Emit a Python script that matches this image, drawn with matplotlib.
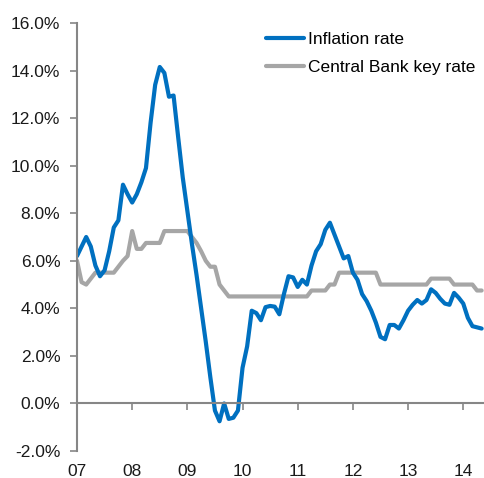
import numpy as np
import matplotlib.pyplot as plt

plt.rcParams['font.family'] = ['Liberation Sans', 'DejaVu Sans']

# Monthly observations, Jan 2007 - May 2014
start_year = 2007
inflation = [
    6.2, 6.6, 7.0, 6.6, 5.8, 5.35, 5.6, 6.4, 7.4, 7.7, 9.2, 8.8,
    8.45, 8.8, 9.3, 9.9, 11.8, 13.4, 14.15, 13.9, 12.9, 12.95, 11.2, 9.5,
    8.1, 6.7, 5.4, 4.0, 2.6, 1.1, -0.3, -0.75, 0.0, -0.65, -0.6, -0.3,
    1.5, 2.4, 3.9, 3.8, 3.5, 4.05, 4.1, 4.07, 3.75, 4.6, 5.35, 5.3,
    4.9, 5.2, 5.0, 5.8, 6.4, 6.7, 7.3, 7.6, 7.1, 6.6, 6.1, 6.2,
    5.5, 5.2, 4.6, 4.3, 3.9, 3.4, 2.8, 2.7, 3.3, 3.3, 3.15, 3.5,
    3.9, 4.15, 4.35, 4.2, 4.35, 4.8, 4.65, 4.4, 4.2, 4.15, 4.65, 4.45,
    4.2, 3.6, 3.25, 3.2, 3.15,
]
key_rate = [
    6.0, 5.1, 5.0, 5.25, 5.5, 5.5, 5.5, 5.5, 5.5, 5.75, 6.0, 6.2,
    7.25, 6.5, 6.5, 6.75, 6.75, 6.75, 6.75, 7.25, 7.25, 7.25, 7.25, 7.25,
    7.25, 7.0, 6.75, 6.4, 6.0, 5.75, 5.75, 5.0, 4.75, 4.5, 4.5, 4.5,
    4.5, 4.5, 4.5, 4.5, 4.5, 4.5, 4.5, 4.5, 4.5, 4.5, 4.5, 4.5,
    4.5, 4.5, 4.5, 4.75, 4.75, 4.75, 4.75, 5.0, 5.0, 5.5, 5.5, 5.5,
    5.5, 5.5, 5.5, 5.5, 5.5, 5.5, 5.0, 5.0, 5.0, 5.0, 5.0, 5.0,
    5.0, 5.0, 5.0, 5.0, 5.0, 5.25, 5.25, 5.25, 5.25, 5.25, 5.0, 5.0,
    5.0, 5.0, 5.0, 4.75, 4.75,
]
year_labels = ['07', '08', '09', '10', '11', '12', '13', '14']

t = start_year + np.arange(len(inflation)) / 12.0
axis_grey = '#868686'

fig = plt.figure(figsize=(4.84, 4.78), dpi=100)
ax = fig.add_axes([77 / 484, 27 / 478, 407 / 484, 428 / 478])

ax.plot(t, key_rate, color='#A6A6A6', lw=3, solid_joinstyle='round',
        solid_capstyle='round', label='Central Bank key rate')
ax.plot(t, inflation, color='#0070C0', lw=3, solid_joinstyle='round',
        solid_capstyle='round', label='Inflation rate')

ax.set_xlim(start_year, start_year + 7.376)
ax.set_ylim(-2, 16)

# y axis
ax.set_yticks(np.arange(-2, 17, 2))
ax.set_yticklabels([f'{v:.1f}%' for v in np.arange(-2, 17, 2)])
ax.tick_params(axis='y', direction='out', length=5, width=1.2,
               color=axis_grey, labelsize=12.5, pad=7, labelcolor='#1a1a1a')

# x axis line sits on zero, labels stay below the plot
for s in ['top', 'right']:
    ax.spines[s].set_visible(False)
ax.spines['bottom'].set_position(('data', 0))
for s in ['left', 'bottom']:
    ax.spines[s].set_color(axis_grey)
    ax.spines[s].set_linewidth(1.5)
ax.set_xticks(np.arange(start_year + 1, start_year + 8))
ax.tick_params(axis='x', direction='out', length=5, width=1.2,
               color=axis_grey, labelbottom=False)

sec = ax.secondary_xaxis(0)
sec.set_xticks(np.arange(start_year, start_year + 8), labels=year_labels)
sec.tick_params(length=0, pad=9, labelsize=12.5, labelcolor='#1a1a1a')
sec.spines['bottom'].set_visible(False)

handles, labels = ax.get_legend_handles_labels()
ax.legend(handles[::-1], labels[::-1], loc='upper right', frameon=False,
          fontsize=12.5, handlelength=2.2, handletextpad=0.2,
          labelspacing=0.75, bbox_to_anchor=(1.0, 1.0), borderaxespad=0.1)

fig.savefig('out.png', dpi=100)
